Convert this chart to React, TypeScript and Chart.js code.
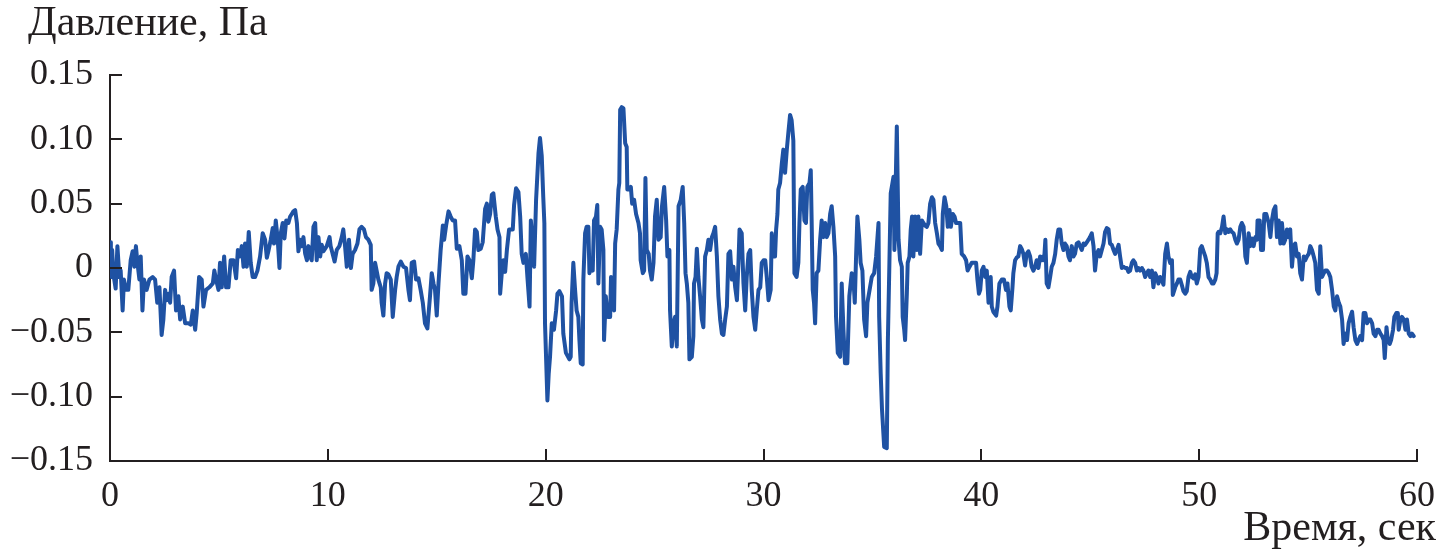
import React, { useEffect, useRef } from "react";
import { Chart, registerables } from "chart.js";

Chart.register(...registerables);

const W = 1438;
const H = 556;
const FONT = "'Liberation Serif', 'Times New Roman', Times, serif";
const FONT_SIZE = 36;
const TITLE_SIZE = 42;
const INK = "#231f20";
const LINE = "#1f52a3";

const yTitle = "Давление, Па";
const xTitle = "Время, сек";
const xTicks = [0, 10, 20, 30, 40, 50, 60];
const xTickLabels = ["0", "10", "20", "30", "40", "50", "60"];
const yTicks = [-0.15, -0.1, -0.05, 0, 0.05, 0.1, 0.15];
const yTickLabels = ["\u22120.15", "\u22120.10", "\u22120.05", "0", "0.05", "0.10", "0.15"];

// [time, s ; pressure, Pa]
const seg0to10 = [
  [0.0, 0.02], [0.04, 0.006], [0.08, -0.007], [0.1, 0.014], [0.15, -0.004], [0.26, -0.016], [0.34, 0.017], [0.43, -0.007],
  [0.49, -0.002], [0.58, -0.033], [0.64, -0.009], [0.74, -0.017], [0.84, -0.017], [0.95, 0.006], [1.04, 0.013], [1.12, 0.001],
  [1.19, 0.017], [1.26, 0.004], [1.35, -0.009], [1.41, 0.009], [1.49, -0.033], [1.56, -0.009], [1.68, -0.017], [1.81, -0.009],
  [1.96, -0.007], [2.07, -0.009], [2.17, -0.027], [2.27, -0.015], [2.37, -0.052], [2.45, -0.04], [2.53, -0.017], [2.6, -0.025],
  [2.68, -0.02], [2.76, -0.027], [2.83, -0.007], [2.94, -0.002], [3.03, -0.033], [3.14, -0.022], [3.22, -0.04], [3.34, -0.03],
  [3.45, -0.043], [3.6, -0.043], [3.71, -0.044], [3.8, -0.033], [3.91, -0.048], [3.98, -0.035], [4.09, -0.007], [4.21, -0.009],
  [4.29, -0.03], [4.41, -0.017], [4.56, -0.015], [4.72, -0.012], [4.79, -0.002], [4.87, -0.009], [4.98, -0.017], [5.05, 0.004],
  [5.13, -0.015], [5.24, 0.009], [5.33, -0.015], [5.44, -0.015], [5.54, 0.006], [5.67, 0.006], [5.79, -0.008], [5.87, 0.014],
  [5.97, 0.009], [6.05, 0.017], [6.13, 0.001], [6.2, 0.019], [6.28, 0.001], [6.37, 0.028], [6.46, 0.004], [6.55, -0.007],
  [6.66, -0.007], [6.77, -0.002], [6.89, 0.009], [7.01, 0.027], [7.12, 0.022], [7.2, 0.008], [7.27, 0.013], [7.38, 0.022],
  [7.47, 0.031], [7.53, 0.019], [7.61, 0.037], [7.7, 0.022], [7.78, 0.0], [7.84, 0.027], [7.93, 0.035], [8.01, 0.023],
  [8.09, 0.037], [8.19, 0.035], [8.27, 0.04], [8.35, 0.042], [8.42, 0.044], [8.5, 0.045], [8.58, 0.035], [8.65, 0.013],
  [8.73, 0.022], [8.81, 0.017], [8.88, 0.024], [8.96, 0.011], [9.04, 0.006], [9.11, 0.017], [9.19, 0.009], [9.26, 0.006],
  [9.34, 0.032], [9.42, 0.035], [9.49, 0.006], [9.57, 0.024], [9.65, 0.009], [9.72, 0.018], [9.8, 0.013], [9.95, 0.017],
  [10.08, 0.024],
];

const seg10to20 = [
  [10.13, 0.017], [10.22, 0.011], [10.31, 0.005], [10.41, 0.014], [10.53, 0.017], [10.64, 0.024], [10.71, 0.03], [10.79, 0.017],
  [10.87, 0.001], [10.97, 0.022], [11.06, 0.0], [11.14, 0.011], [11.25, 0.014], [11.36, 0.019], [11.45, 0.03], [11.55, 0.032],
  [11.66, 0.03], [11.75, 0.024], [11.86, 0.022], [11.97, 0.018], [12.01, -0.017], [12.09, -0.012], [12.17, 0.004], [12.24, -0.002],
  [12.32, -0.009], [12.43, -0.015], [12.47, -0.027], [12.55, -0.037], [12.63, -0.012], [12.7, -0.004], [12.78, -0.005], [12.89, -0.009],
  [12.98, -0.038], [13.09, -0.017], [13.16, -0.007], [13.24, 0.001], [13.35, 0.005], [13.47, 0.001], [13.59, 0.0], [13.7, -0.017],
  [13.77, -0.025], [13.85, 0.004], [13.96, 0.005], [14.05, -0.009], [14.16, -0.008], [14.26, -0.017], [14.36, -0.027], [14.46, -0.043],
  [14.57, -0.047], [14.69, -0.022], [14.77, -0.004], [14.85, -0.012], [14.92, -0.017], [15.0, -0.037], [15.08, -0.012], [15.18, 0.014],
  [15.28, 0.033], [15.34, 0.022], [15.43, 0.033], [15.54, 0.044], [15.64, 0.04], [15.73, 0.037], [15.84, 0.037], [15.92, 0.015],
  [16.04, 0.017], [16.15, 0.006], [16.22, -0.02], [16.32, -0.02], [16.41, 0.009], [16.5, 0.006], [16.61, -0.008], [16.68, 0.006],
  [16.76, 0.03], [16.84, 0.028], [16.91, 0.014], [17.02, 0.015], [17.11, 0.02], [17.22, 0.046], [17.3, 0.05], [17.37, 0.036],
  [17.45, 0.042], [17.53, 0.057], [17.6, 0.058], [17.71, 0.04], [17.79, 0.03], [17.88, 0.024], [17.91, -0.02], [17.99, -0.003],
  [18.06, 0.006], [18.14, -0.003], [18.22, 0.014], [18.32, 0.03], [18.4, 0.03], [18.49, 0.03], [18.55, 0.049], [18.64, 0.062],
  [18.75, 0.059], [18.83, 0.04], [18.9, 0.011], [18.98, 0.004], [19.09, 0.011], [19.17, -0.009], [19.26, -0.03], [19.32, 0.037],
  [19.4, 0.019], [19.47, 0.001], [19.56, 0.053], [19.67, 0.089],
];

const seg20to30 = [
  [19.74, 0.101], [19.82, 0.087], [19.89, 0.055], [19.94, 0.035], [19.97, -0.043], [20.08, -0.103], [20.14, -0.082], [20.2, -0.069],
  [20.28, -0.043], [20.38, -0.048], [20.48, -0.033], [20.54, -0.02], [20.63, -0.018], [20.75, -0.022], [20.81, -0.051], [20.93, -0.066],
  [21.09, -0.071], [21.15, -0.069], [21.19, -0.027], [21.27, 0.004], [21.35, -0.017], [21.42, -0.033], [21.5, -0.038], [21.55, -0.056],
  [21.61, -0.074], [21.7, -0.075], [21.73, -0.009], [21.81, 0.027], [21.88, 0.032], [21.96, 0.032], [22.01, -0.004], [22.07, 0.001],
  [22.16, -0.002], [22.22, 0.037], [22.31, 0.04], [22.37, 0.049], [22.42, -0.012], [22.5, 0.032], [22.57, 0.03], [22.65, 0.014],
  [22.68, -0.056], [22.76, -0.022], [22.85, -0.038], [22.96, -0.038], [23.0, -0.007], [23.08, -0.03], [23.14, -0.033], [23.19, 0.019],
  [23.26, 0.03], [23.34, 0.061], [23.38, 0.066], [23.42, 0.123], [23.49, 0.125], [23.57, 0.124], [23.65, 0.097], [23.72, 0.094],
  [23.75, 0.061], [23.84, 0.061], [23.91, 0.063], [23.97, 0.05], [24.06, 0.053], [24.15, 0.042], [24.26, 0.035], [24.33, 0.027],
  [24.36, 0.006], [24.46, -0.004], [24.52, -0.002], [24.58, 0.07], [24.64, 0.014], [24.73, 0.011], [24.79, -0.002], [24.87, -0.009],
  [24.95, 0.004], [25.02, 0.04], [25.1, 0.053], [25.18, 0.022], [25.28, 0.024], [25.34, 0.048], [25.44, 0.063], [25.53, 0.037],
  [25.59, 0.009], [25.68, 0.014], [25.71, -0.033], [25.79, -0.061], [25.87, -0.043], [25.94, -0.038], [26.02, -0.061], [26.1, 0.048],
  [26.2, 0.053], [26.29, 0.063], [26.36, 0.035], [26.42, -0.004], [26.48, -0.012], [26.55, -0.027], [26.6, -0.071], [26.71, -0.069],
  [26.78, -0.053], [26.81, -0.012], [26.88, -0.007], [26.94, 0.015], [27.01, -0.007], [27.09, -0.022], [27.17, -0.04], [27.24, -0.046],
  [27.32, 0.009], [27.4, 0.014], [27.47, 0.022], [27.55, 0.014], [27.63, 0.024], [27.7, 0.027], [27.78, 0.032], [27.86, 0.009],
  [27.93, -0.022], [28.01, -0.04], [28.09, -0.051], [28.16, -0.052], [28.24, -0.04], [28.32, -0.03], [28.39, 0.011], [28.47, 0.013],
  [28.55, -0.009], [28.62, 0.001], [28.7, -0.015], [28.78, -0.025], [28.85, 0.004], [28.9, 0.03], [29.0, 0.027], [29.08, -0.012],
  [29.16, -0.033], [29.23, -0.007], [29.31, 0.011], [29.39, 0.014], [29.46, -0.017], [29.54, -0.038], [29.62, -0.048], [29.69, -0.033],
  [29.77, -0.017], [29.85, -0.015], [29.92, 0.004], [30.0, 0.006], [30.08, 0.006], [30.15, -0.007], [30.23, -0.025],
];

const seg30to40 = [
  [30.25, -0.025], [30.33, -0.017], [30.38, 0.027], [30.45, 0.009], [30.53, 0.009], [30.58, 0.03], [30.64, 0.042], [30.68, 0.061],
  [30.76, 0.066], [30.84, 0.081], [30.91, 0.092], [30.99, 0.074], [31.07, 0.092], [31.14, 0.105], [31.22, 0.119], [31.29, 0.115],
  [31.37, 0.099], [31.42, -0.004], [31.52, -0.007], [31.6, 0.004], [31.65, 0.035], [31.71, 0.061], [31.8, 0.063], [31.88, 0.037],
  [31.95, 0.035], [32.01, 0.063], [32.11, 0.066], [32.17, 0.076], [32.21, 0.037], [32.26, -0.017], [32.32, -0.027], [32.37, -0.043],
  [32.44, -0.004], [32.52, -0.002], [32.6, 0.022], [32.67, 0.037], [32.75, 0.024], [32.83, 0.035], [32.9, 0.024], [32.98, 0.027],
  [33.06, 0.042], [33.13, 0.048], [33.21, 0.032], [33.29, 0.009], [33.33, -0.038], [33.41, -0.066], [33.52, -0.069], [33.59, -0.012],
  [33.67, -0.048], [33.74, -0.074], [33.85, -0.074], [33.94, -0.022], [34.05, -0.004], [34.13, -0.009], [34.19, -0.027], [34.25, 0.009],
  [34.31, 0.04], [34.4, 0.022], [34.46, 0.004], [34.54, -0.002], [34.62, -0.04], [34.71, -0.053], [34.77, -0.027], [34.89, -0.015],
  [34.97, -0.007], [35.08, -0.004], [35.17, 0.009], [35.28, 0.035], [35.31, -0.038], [35.38, -0.082], [35.44, -0.11], [35.54, -0.139],
  [35.66, -0.14], [35.71, -0.056], [35.78, 0.004], [35.84, 0.058], [35.97, 0.071], [36.01, 0.014], [36.12, 0.11], [36.2, 0.022],
  [36.27, 0.006], [36.35, 0.001], [36.39, -0.038], [36.46, -0.048], [36.5, -0.056], [36.58, -0.02], [36.62, 0.004], [36.7, 0.009],
  [36.76, 0.03], [36.82, 0.04], [36.88, 0.009], [36.96, 0.04], [37.04, 0.014], [37.11, 0.04], [37.19, 0.011], [37.27, 0.037],
  [37.34, 0.035], [37.42, 0.033], [37.5, 0.032], [37.57, 0.035], [37.65, 0.05], [37.73, 0.055], [37.8, 0.053], [37.88, 0.035],
  [37.96, 0.027], [38.03, 0.019], [38.11, 0.017], [38.19, 0.014], [38.23, 0.042], [38.31, 0.055], [38.39, 0.048], [38.46, 0.032],
  [38.54, 0.045], [38.6, 0.032], [38.69, 0.042], [38.77, 0.04], [38.84, 0.035], [38.94, 0.035], [39.03, 0.035], [39.1, 0.011],
  [39.21, 0.009], [39.3, 0.006], [39.37, -0.002], [39.46, 0.001], [39.56, 0.004], [39.64, 0.004], [39.76, 0.004], [39.82, -0.009],
  [39.89, -0.02], [39.95, -0.017], [40.02, -0.002], [40.1, 0.001], [40.18, -0.007], [40.25, -0.002], [40.33, -0.027],
];

const seg40to50 = [
  [40.43, -0.007], [40.48, -0.03], [40.55, -0.034], [40.68, -0.037], [40.74, -0.03], [40.83, -0.012], [40.94, -0.009], [41.04, -0.009],
  [41.13, -0.017], [41.2, -0.012], [41.29, -0.03], [41.35, -0.033], [41.43, -0.015], [41.47, -0.004], [41.55, 0.006], [41.62, 0.008],
  [41.7, 0.009], [41.78, 0.017], [41.85, 0.015], [41.93, 0.011], [42.01, 0.002], [42.08, 0.011], [42.16, 0.013], [42.24, 0.009],
  [42.31, 0.001], [42.39, -0.002], [42.47, 0.001], [42.54, 0.006], [42.62, 0.0], [42.7, 0.009], [42.77, 0.006], [42.82, 0.009],
  [42.88, 0.006], [42.94, 0.022], [43.0, -0.012], [43.08, -0.015], [43.16, -0.007], [43.23, 0.001], [43.31, 0.004], [43.39, 0.011],
  [43.46, 0.022], [43.54, 0.03], [43.62, 0.03], [43.69, 0.019], [43.77, 0.014], [43.84, 0.019], [43.92, 0.017], [44.0, 0.009],
  [44.07, 0.006], [44.15, 0.017], [44.23, 0.009], [44.3, 0.011], [44.38, 0.019], [44.46, 0.02], [44.53, 0.017], [44.61, 0.014],
  [44.69, 0.019], [44.76, 0.018], [44.84, 0.02], [44.92, 0.022], [44.99, 0.024], [45.07, 0.027], [45.15, 0.017], [45.22, -0.002],
  [45.3, 0.011], [45.38, 0.014], [45.45, 0.009], [45.53, 0.014], [45.61, 0.019], [45.68, 0.028], [45.76, 0.031], [45.84, 0.03],
  [45.91, 0.019], [45.99, 0.018], [46.07, 0.014], [46.14, 0.011], [46.22, 0.014], [46.3, 0.018], [46.37, 0.009], [46.45, 0.0],
  [46.52, 0.001], [46.6, 0.0], [46.68, 0.0], [46.75, -0.003], [46.83, -0.002], [46.91, 0.004], [46.98, 0.006], [47.06, 0.004],
  [47.14, -0.002], [47.21, 0.0], [47.29, -0.002], [47.37, 0.0], [47.44, -0.002], [47.52, -0.007], [47.6, -0.004], [47.67, -0.002],
  [47.75, -0.007], [47.83, -0.002], [47.9, -0.015], [47.98, -0.004], [48.06, -0.007], [48.13, -0.012], [48.21, -0.007], [48.29, -0.009],
  [48.36, -0.013], [48.44, 0.011], [48.52, 0.019], [48.59, 0.009], [48.67, 0.004], [48.75, 0.006], [48.79, -0.021], [48.9, -0.015],
  [48.98, -0.012], [49.05, -0.009], [49.13, -0.009], [49.2, -0.013], [49.28, -0.018], [49.36, -0.02], [49.43, -0.018], [49.51, -0.007],
  [49.59, -0.003], [49.66, -0.007], [49.74, -0.008], [49.82, -0.005], [49.89, -0.012], [49.97, -0.007], [50.05, 0.015], [50.12, 0.017],
  [50.2, 0.013], [50.28, 0.009], [50.35, 0.004], [50.43, -0.007],
];

const seg50to60 = [
  [50.51, -0.009], [50.59, -0.012], [50.66, -0.012], [50.74, -0.009], [50.8, -0.004], [50.85, 0.027], [50.89, 0.028], [50.97, 0.027],
  [51.05, 0.032], [51.12, 0.04], [51.2, 0.027], [51.28, 0.03], [51.35, 0.028], [51.43, 0.03], [51.5, 0.028], [51.58, 0.027],
  [51.66, 0.022], [51.73, 0.019], [51.81, 0.022], [51.89, 0.032], [51.96, 0.035], [52.04, 0.032], [52.12, 0.009], [52.19, 0.004],
  [52.27, 0.027], [52.35, 0.017], [52.42, 0.023], [52.5, 0.017], [52.58, 0.024], [52.65, 0.022], [52.68, 0.037], [52.78, 0.037],
  [52.84, 0.014], [52.93, 0.014], [52.99, 0.042], [53.08, 0.042], [53.19, 0.035], [53.27, 0.024], [53.34, 0.037], [53.42, 0.045],
  [53.5, 0.048], [53.57, 0.024], [53.65, 0.037], [53.73, 0.019], [53.8, 0.035], [53.88, 0.019], [53.95, 0.022], [54.03, 0.03],
  [54.11, 0.024], [54.18, 0.03], [54.26, 0.001], [54.34, 0.017], [54.41, 0.019], [54.49, 0.009], [54.57, 0.011], [54.64, -0.004],
  [54.72, -0.009], [54.8, 0.009], [54.87, 0.006], [54.95, 0.009], [55.03, 0.011], [55.1, 0.017], [55.18, 0.014], [55.26, 0.009],
  [55.33, 0.004], [55.41, -0.017], [55.49, -0.02], [55.56, 0.017], [55.64, -0.007], [55.72, -0.004], [55.79, -0.002], [55.87, -0.002],
  [55.95, -0.004], [56.02, -0.007], [56.1, -0.017], [56.18, -0.03], [56.25, -0.033], [56.33, -0.022], [56.41, -0.027], [56.48, -0.03],
  [56.56, -0.04], [56.63, -0.059], [56.71, -0.051], [56.79, -0.056], [56.86, -0.043], [56.94, -0.038], [57.02, -0.034], [57.09, -0.046],
  [57.17, -0.056], [57.25, -0.059], [57.32, -0.056], [57.4, -0.053], [57.48, -0.056], [57.55, -0.035], [57.63, -0.035], [57.71, -0.043],
  [57.78, -0.04], [57.86, -0.04], [57.94, -0.043], [58.01, -0.051], [58.09, -0.053], [58.17, -0.048], [58.24, -0.048], [58.32, -0.051],
  [58.4, -0.053], [58.47, -0.056], [58.52, -0.07], [58.6, -0.046], [58.66, -0.056], [58.75, -0.059], [58.81, -0.056], [58.9, -0.048],
  [58.96, -0.038], [59.05, -0.035], [59.12, -0.035], [59.16, -0.048], [59.24, -0.04], [59.31, -0.038], [59.39, -0.04], [59.47, -0.048],
  [59.54, -0.04], [59.62, -0.051], [59.7, -0.053], [59.77, -0.051], [59.85, -0.053],
];

const segments = [seg0to10, seg10to20, seg20to30, seg30to40, seg40to50, seg50to60];

const axisDecor = {
  id: "axisDecor",
  afterDraw(chart: any) {
    const { ctx, chartArea, scales } = chart;
    ctx.save();
    ctx.strokeStyle = INK;
    ctx.lineWidth = 2;
    ctx.lineCap = "butt";
    ctx.beginPath();
    for (const v of yTicks) {
      const y = Math.round(scales.y.getPixelForValue(v));
      ctx.moveTo(chartArea.left, y);
      ctx.lineTo(chartArea.left + 12, y);
    }
    for (const v of xTicks) {
      const x = Math.round(scales.x.getPixelForValue(v));
      ctx.moveTo(x, chartArea.bottom);
      ctx.lineTo(x, chartArea.bottom - 12);
    }
    ctx.stroke();
    ctx.fillStyle = INK;
    ctx.font = `${TITLE_SIZE}px ${FONT}`;
    ctx.textBaseline = "alphabetic";
    ctx.textAlign = "left";
    ctx.fillText(yTitle, 28, 35);
    ctx.textAlign = "right";
    ctx.fillText(xTitle, 1436, 540);
    ctx.restore();
  },
};

export default function App() {
  const ref = useRef<HTMLCanvasElement | null>(null);

  useEffect(() => {
    if (!ref.current) return;
    const points = segments.flat().map(([t, p]) => ({ x: t, y: p }));
    const chart = new Chart(ref.current, {
      type: "line",
      data: {
        datasets: [
          {
            data: points,
            borderColor: LINE,
            borderWidth: 4,
            pointRadius: 0,
            tension: 0,
            fill: false,
            borderJoinStyle: "round",
            borderCapStyle: "round",
          },
        ],
      },
      options: {
        responsive: false,
        animation: false,
        devicePixelRatio: 1,
        layout: { padding: { left: 0, top: 75, right: 21, bottom: 0 } },
        plugins: { legend: { display: false }, tooltip: { enabled: false } },
        scales: {
          x: {
            type: "linear",
            min: 0,
            max: 60,
            afterBuildTicks: (s: any) => {
              s.ticks = xTicks.map((v) => ({ value: v }));
            },
            afterFit: (s: any) => {
              s.height = 95;
              s.paddingLeft = 0;
              s.paddingRight = 0;
            },
            ticks: {
              autoSkip: false,
              maxRotation: 0,
              padding: 14,
              color: INK,
              font: { family: FONT, size: FONT_SIZE },
              callback: (v: any) => xTickLabels[xTicks.findIndex((t) => Math.abs(t - v) < 1e-9)] ?? "",
            },
            grid: { display: false, drawTicks: false },
            border: { display: true, color: INK, width: 2 },
          },
          y: {
            type: "linear",
            min: -0.15,
            max: 0.15,
            afterBuildTicks: (s: any) => {
              s.ticks = yTicks.map((v) => ({ value: v }));
            },
            afterFit: (s: any) => {
              s.width = 110;
              s.paddingTop = 0;
              s.paddingBottom = 0;
            },
            ticks: {
              autoSkip: false,
              padding: 17,
              color: INK,
              font: { family: FONT, size: FONT_SIZE },
              callback: (v: any) => yTickLabels[yTicks.findIndex((t) => Math.abs(t - v) < 1e-9)] ?? "",
            },
            grid: { display: false, drawTicks: false },
            border: { display: true, color: INK, width: 2 },
          },
        },
      },
      plugins: [axisDecor],
    });
    return () => chart.destroy();
  }, []);

  return (
    <div style={{ position: "fixed", left: 0, top: 0, width: W, height: H, background: "#fff" }}>
      <canvas ref={ref} width={W} height={H} style={{ width: W, height: H, display: "block" }} />
    </div>
  );
}
